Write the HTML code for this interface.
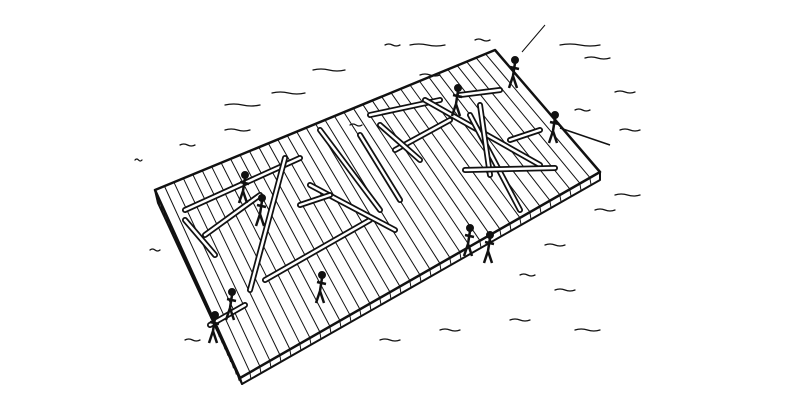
<!DOCTYPE html>
<html><head><meta charset="utf-8"><style>
html,body{margin:0;padding:0;background:#fff;width:790px;height:412px;overflow:hidden}
</style></head><body>
<svg id="s" width="790" height="412" viewBox="0 0 790 412" xmlns="http://www.w3.org/2000/svg">
<g fill="none" stroke="#111" stroke-width="2" stroke-linecap="round" stroke-linejoin="round">
<path d="M155 190 L495 50 L600 172 L240 378 Z" stroke-width="2.5"/>
<path d="M155 190 L158 203 L242 384 L240 378" />
<path d="M242 384 L600 180 L600 172"/>
</g>
<g id="planks" stroke="#111" stroke-width="1" fill="none"></g>
<g id="edge" stroke="#111" stroke-width="1" fill="none"></g>
<g id="timbers"></g>
<g id="figs" fill="#111" stroke="#111"></g>
<g id="water" stroke="#111" stroke-width="1.3" fill="none" stroke-linecap="round"></g>
</svg>
<script>
var NS="http://www.w3.org/2000/svg";
function el(p,t,a){var e=document.createElementNS(NS,t);for(var k in a)e.setAttribute(k,a[k]);document.getElementById(p).appendChild(e);return e;}
for(var i=1;i<36;i++){var t=i/36;
 var x1=155+340*t,y1=190-140*t,x2=240+360*t,y2=378-206*t;
 el("planks","line",{x1:x1,y1:y1,x2:x2,y2:y2});
 var bx=240+360*t,by=378-206*t;
 el("edge","line",{x1:bx,y1:by+1,x2:bx+1,y2:by+7});
}
for(var j=1;j<30;j++){var u=j/30;var x=155+85*u,y=190+188*u;el("edge","line",{x1:x,y1:y+2,x2:x+2,y2:y+9});}
var T=[[185,210,300,158],[250,290,285,158],[265,280,370,220],[205,235,260,195],[185,220,215,255],[310,185,395,230],[320,130,380,210],[360,135,400,200],[370,115,440,100],[395,150,450,120],[425,100,540,165],[470,115,520,210],[480,105,490,175],[465,170,555,168],[510,140,540,130],[300,205,330,195],[210,325,245,305],[380,125,420,160],[460,95,500,90]];
T.forEach(function(a){el("timbers","line",{x1:a[0],y1:a[1],x2:a[2],y2:a[3],stroke:"#111","stroke-width":6,"stroke-linecap":"round"});
 el("timbers","line",{x1:a[0],y1:a[1],x2:a[2],y2:a[3],stroke:"#fff","stroke-width":2.5,"stroke-linecap":"round"});});
var F=[[245,175],[262,198],[322,275],[232,292],[215,315],[458,88],[515,60],[555,115],[470,228],[490,235]];
F.forEach(function(f){el("figs","circle",{cx:f[0],cy:f[1],r:3.5});
 el("figs","path",{d:"M"+f[0]+" "+(f[1]+3)+" l-2 13 l-4 12 M"+(f[0]-2)+" "+(f[1]+16)+" l4 12 M"+(f[0]-5)+" "+(f[1]+7)+" l9 2","stroke-width":2.5,fill:"none"});});
el("figs","line",{x1:522,y1:52,x2:545,y2:25,"stroke-width":1});
el("figs","line",{x1:560,y1:128,x2:610,y2:145,"stroke-width":1.5});
var W=[[225,105,260],[272,93,305],[313,70,345],[385,45,400],[410,45,445],[475,40,490],[560,45,600],[585,58,610],[225,130,250],[180,145,195],[135,160,142],[615,92,635],[620,130,640],[615,195,640],[595,210,615],[545,245,565],[555,290,575],[575,330,600],[510,320,530],[440,330,460],[380,340,400],[520,275,535],[575,110,590],[420,75,440],[150,250,160],[185,340,200],[350,125,362]];
W.forEach(function(w){el("water","path",{d:"M"+w[0]+" "+w[1]+" q"+((w[2]-w[0])/4)+" -2 "+((w[2]-w[0])/2)+" 0 t"+((w[2]-w[0])/2)+" 0"});});
</script>
</body></html>
